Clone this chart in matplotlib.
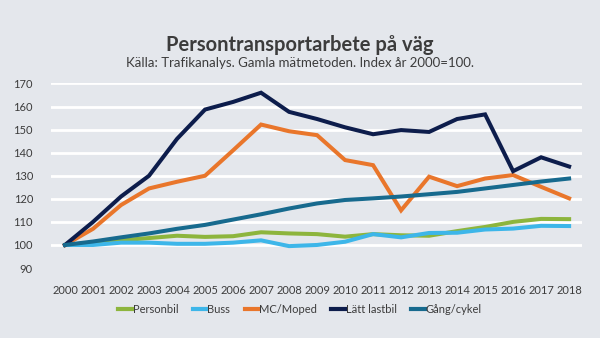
import matplotlib.pyplot as plt

# ---------------------------------------------------------------------------
# Data — index, year 2000 = 100
# ---------------------------------------------------------------------------
years = list(range(2000, 2019))

personbil = [100, 101, 102, 103, 104, 103.5, 103.8, 105.5, 105, 104.7,
             103.6, 104.7, 104.2, 104, 106, 107.8, 110, 111.3, 111.2]
buss = [100, 100, 101, 101, 100.5, 100.5, 101, 102, 99.5, 100,
        101.4, 104.7, 103.3, 105.2, 105.3, 106.7, 107.1, 108.3, 108.2]
mc_moped = [100, 107, 117.3, 124.5, 127.4, 130, 141, 152.2, 149.3, 147.6,
            136.8, 134.6, 115, 129.6, 125.5, 128.8, 130.3, 125.2, 120.2]
latt_lastbil = [100, 110, 121, 130, 146, 158.7, 162, 166, 157.7, 154.6,
                151, 148, 149.8, 149, 154.6, 156.6, 132, 138, 134]
gang_cykel = [100, 101.5, 103.3, 105, 107, 108.7, 111, 113.3, 115.8, 118,
              119.5, 120.2, 121, 122, 123, 124.5, 126, 127.5, 128.8]

series = [
    ("Personbil", personbil, "#8db53d"),
    ("Buss", buss, "#3db6e9"),
    ("MC/Moped", mc_moped, "#e9762b"),
    ("Lätt lastbil", latt_lastbil, "#0d1d4c"),
    ("Gång/cykel", gang_cykel, "#176a8e"),
]

yticks = [90, 100, 110, 120, 130, 140, 150, 160, 170]

BG = "#e4e7ec"
TEXT = "#3c3c3c"

plt.rcParams["font.family"] = ["Lato", "DejaVu Sans"]

fig = plt.figure(figsize=(6, 3.38), dpi=100, facecolor=BG)
ax = fig.add_axes([0.085, 0.207, 0.885, 0.546], facecolor=BG)

# white gridlines (none at the 90 level)
for y in yticks[1:]:
    ax.axhline(y, color="white", lw=2.0, zorder=0)

for name, vals, color in series:
    ax.plot(years, vals, color=color, lw=2.9, label=name, zorder=2,
            solid_joinstyle="miter")

ax.set_xlim(1999.5, 2018.46)
ax.set_ylim(90, 170)
ax.set_yticks(yticks)
ax.set_xticks(years)
ax.tick_params(length=0, labelsize=8, colors=TEXT, pad=12)
ax.tick_params(axis="y", pad=13)
for s in ax.spines.values():
    s.set_visible(False)

fig.text(0.5, 0.866, "Persontransportarbete på väg", ha="center",
         va="center", fontsize=14.5, weight="bold", color=TEXT)
fig.text(0.5, 0.815, "Källa: Trafikanalys. Gamla mätmetoden. Index år 2000=100.",
         ha="center", va="center", fontsize=9.5, color=TEXT)

leg = fig.legend(loc="center", bbox_to_anchor=(0.5, 0.085), ncol=5,
                 frameon=False, fontsize=8, handlelength=1.2,
                 handletextpad=0.1, columnspacing=1.3, labelcolor=TEXT)
for line in leg.get_lines():
    line.set_linewidth(3)

fig.savefig("out.png", dpi=100, facecolor=BG)
